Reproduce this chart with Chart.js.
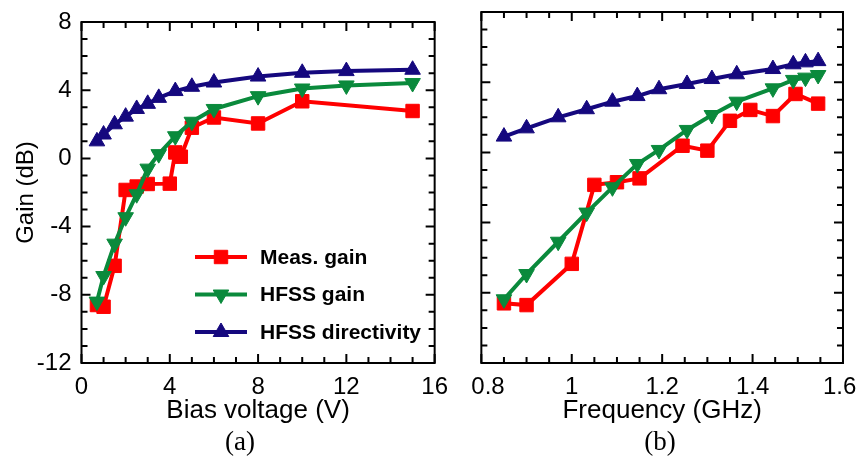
<!DOCTYPE html>
<html>
<head>
<meta charset="utf-8">
<script src="https://cdn.jsdelivr.net/npm/chart.js@4.4.0/dist/chart.umd.min.js"></script>
<style>
  body { margin: 0; background: #fff; }
  #wrap { position: relative; width: 859px; height: 459px; overflow: hidden; }
  canvas { position: absolute; top: 0; }
  #ca { left: 0; }
  #cb { left: 446px; }
  .tag { position: absolute; top: 425px; width: 60px; text-align: center;
         font-family: 'Liberation Serif', 'Times New Roman', serif; font-size: 27px; line-height: 32px; }
</style>
</head>
<body>
<div id="wrap">
  <canvas id="ca" width="460" height="459"></canvas>
  <canvas id="cb" width="429" height="459"></canvas>
  <div class="tag" style="left:210px">(a)</div>
  <div class="tag" style="left:630px">(b)</div>
</div>
<script>
// (a) gain vs bias voltage
const biasMeasV    = [0.7, 1, 1.5, 2, 2.5, 3, 4, 4.25, 4.5, 5, 6, 8, 10, 15];
const biasMeasGain = [-8.6, -8.7, -6.3, -1.85, -1.65, -1.5, -1.48, 0.35, 0.1, 1.8, 2.4, 2.05, 3.35, 2.78];
const biasSimV     = [0.7, 1, 1.5, 2, 2.5, 3, 3.5, 4.25, 5, 6, 8, 10, 12, 15];
const biasSimGain  = [-8.4, -6.9, -5.0, -3.45, -2.1, -0.6, 0.25, 1.3, 2.15, 2.9, 3.65, 4.1, 4.28, 4.42];
const biasDir      = [1.0, 1.4, 2.0, 2.45, 2.9, 3.2, 3.55, 3.95, 4.2, 4.45, 4.8, 5.02, 5.12, 5.2];

// (b) gain vs frequency
const freqMeas     = [0.85, 0.9, 1.0, 1.05, 1.1, 1.15, 1.245, 1.3, 1.35, 1.395, 1.445, 1.495, 1.545];
const freqMeasGain = [-8.6, -8.7, -6.35, -1.85, -1.7, -1.48, 0.38, 0.1, 1.8, 2.42, 2.07, 3.33, 2.78];
const freqSim      = [0.85, 0.9, 0.97, 1.033, 1.09, 1.145, 1.193, 1.255, 1.31, 1.365, 1.445, 1.49, 1.517, 1.545];
const freqSimGain  = [-8.37, -6.93, -5.09, -3.43, -1.99, -0.66, 0.14, 1.28, 2.13, 2.89, 3.65, 4.13, 4.26, 4.41];
const freqDir      = [0.9, 1.37, 2.0, 2.46, 2.89, 3.21, 3.6, 3.9, 4.18, 4.45, 4.75, 5.02, 5.13, 5.2];

const yTicks = [-12, -8, -4, 0, 4, 8];
const seriesNames = ['Meas. gain', 'HFSS gain', 'HFSS directivity'];

const RED = '#ff0000', GREEN = '#0a8a3c', NAVY = '#15087e';
const SANS = "'Liberation Sans', Arial, sans-serif";

Chart.defaults.font.family = SANS;
Chart.defaults.color = '#000';

function series(label, xs, ys, color, style, rot, r) {
  return {
    label,
    data: xs.map((x, i) => ({ x: x, y: ys[i] })),
    borderColor: color,
    backgroundColor: color,
    borderWidth: 4,
    pointStyle: style,
    rotation: rot,
    pointRadius: r,
    pointHoverRadius: r,
    pointBorderWidth: 1,
    tension: 0,
    fill: false
  };
}

// box round the plot, with inward ticks on all four sides
const frameTicks = {
  id: 'frameTicks',
  afterDatasetsDraw(chart, args, o) {
    const { ctx, chartArea: a, scales } = chart;
    ctx.save();
    ctx.strokeStyle = '#000';
    ctx.lineWidth = 2;
    ctx.beginPath();
    const marks = (scale, minor, major, draw) => {
      const n = Math.round((scale.max - scale.min) / minor);
      for (let i = 0; i <= n; i++) {
        const v = scale.min + i * minor;
        const r = (v - scale.min) / major;
        const len = Math.abs(r - Math.round(r)) < 1e-6 ? o.major : o.minor;
        draw(scale.getPixelForValue(v), len);
      }
    };
    marks(scales.x, o.xMinor, o.xMajor, (p, l) => {
      ctx.moveTo(p, a.bottom); ctx.lineTo(p, a.bottom - l);
      ctx.moveTo(p, a.top); ctx.lineTo(p, a.top + l);
    });
    marks(scales.y, o.yMinor, o.yMajor, (p, l) => {
      ctx.moveTo(a.left, p); ctx.lineTo(a.left + l, p);
      ctx.moveTo(a.right, p); ctx.lineTo(a.right - l, p);
    });
    ctx.stroke();
    ctx.strokeRect(a.left, a.top, a.right - a.left, a.bottom - a.top);
    ctx.restore();
  }
};

// legend with line + marker, like the original
const lineLegend = {
  id: 'lineLegend',
  afterDatasetsDraw(chart, args, o) {
    if (!o.show) return;
    const ctx = chart.ctx;
    const sets = chart.data.datasets.slice().reverse();
    ctx.save();
    sets.forEach((ds, i) => {
      const y = o.y + i * o.gap;
      ctx.strokeStyle = ds.borderColor;
      ctx.lineWidth = 4;
      ctx.beginPath();
      ctx.moveTo(o.x, y);
      ctx.lineTo(o.x + o.len, y);
      ctx.stroke();
      ctx.fillStyle = ds.borderColor;
      ctx.lineWidth = 1;
      Chart.helpers.drawPoint(ctx, {
        pointStyle: ds.pointStyle, rotation: ds.rotation || 0,
        radius: ds.pointRadius, borderWidth: 1
      }, o.x + o.len / 2, y);
      ctx.fillStyle = '#000';
      ctx.font = 'bold 21px ' + SANS;
      ctx.textBaseline = 'middle';
      ctx.fillText(ds.label, o.x + o.len + 13, y + 1);
    });
    ctx.restore();
  }
};

function makeChart(id, sets, xCfg, showY, pad, yWidth, legend, ticks) {
  return new Chart(document.getElementById(id), {
    type: 'line',
    data: { datasets: sets },
    options: {
      responsive: false,
      animation: false,
      devicePixelRatio: 1,
      layout: { padding: pad },
      plugins: {
        legend: { display: false },
        tooltip: { enabled: false },
        frameTicks: ticks,
        lineLegend: legend
      },
      scales: {
        x: {
          type: 'linear',
          min: xCfg.min,
          max: xCfg.max,
          grid: { display: false, drawTicks: false },
          border: { display: false },
          afterBuildTicks: s => { s.ticks = xCfg.ticks.map(v => ({ value: v })); },
          afterFit: s => { s.height = 96; },
          ticks: {
            padding: 12,
            font: { size: 24, lineHeight: 1 },
            callback: xCfg.label
          },
          title: {
            display: true,
            text: xCfg.title,
            font: { size: 26 },
            padding: { top: 0, bottom: 33 }
          }
        },
        y: {
          type: 'linear',
          min: -12,
          max: 8,
          grid: { display: false, drawTicks: false },
          border: { display: false },
          afterBuildTicks: s => { s.ticks = yTicks.map(v => ({ value: v })); },
          afterFit: s => { s.width = yWidth; },
          ticks: {
            display: showY,
            padding: 10,
            font: { size: 24, lineHeight: 1 }
          },
          title: {
            display: showY,
            text: 'Gain (dB)',
            font: { size: 24 },
            padding: { top: 12, bottom: 0 }
          }
        }
      }
    },
    plugins: [frameTicks, lineLegend]
  });
}

makeChart('ca', [
  series(seriesNames[2], biasSimV, biasDir, NAVY, 'triangle', 0, 9),
  series(seriesNames[1], biasSimV, biasSimGain, GREEN, 'triangle', 180, 9),
  series(seriesNames[0], biasMeasV, biasMeasGain, RED, 'rect', 0, 9.5)
], { min: 0, max: 16, ticks: [0, 4, 8, 12, 16], title: 'Bias voltage (V)',
     label: v => String(v) },
  true, { left: 0, top: 12, right: 19, bottom: 0 }, 81.5,
  { show: true, x: 195, y: 257, gap: 37.5, len: 52 },
  { xMinor: 1, xMajor: 4, yMinor: 1, yMajor: 4, major: 9, minor: 6 });

// end labels nudged inward as in the original figure
makeChart('cb', [
  series(seriesNames[2], freqSim, freqDir, NAVY, 'triangle', 0, 9),
  series(seriesNames[1], freqSim, freqSimGain, GREEN, 'triangle', 180, 9),
  series(seriesNames[0], freqMeas, freqMeasGain, RED, 'rect', 0, 9.5)
], { min: 0.8, max: 1.6, ticks: [0.8, 1.0, 1.2, 1.4, 1.6], title: 'Frequency (GHz)',
     label: v => {
       const t = String(Number(v.toFixed(2)));
       if (Math.abs(v - 0.8) < 1e-6) return '  ' + t;
       if (Math.abs(v - 1.6) < 1e-6) return t + ' ';
       return t;
     } },
  false, { left: 0, top: 12, right: 25, bottom: 0 }, 35,
  { show: false },
  { xMinor: 0.05, xMajor: 0.2, yMinor: 1, yMajor: 4, major: 9, minor: 6 });
</script>
</body>
</html>
